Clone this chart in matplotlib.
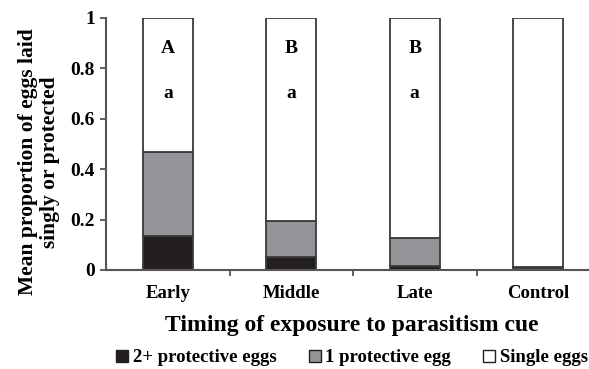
import matplotlib.pyplot as plt
from matplotlib.patches import Patch

categories = ["Early", "Middle", "Late", "Control"]
two_plus = [0.135, 0.052, 0.016, 0.005]
one_prot = [0.333, 0.143, 0.111, 0.008]
single = [1 - a - b for a, b in zip(two_plus, one_prot)]
upper_letters = ["A", "B", "B", ""]
lower_letters = ["a", "a", "a", ""]

plt.rcParams['font.family'] = ['Liberation Serif', 'DejaVu Serif']
plt.rcParams['font.weight'] = 'bold'

fig = plt.figure(figsize=(5.89, 3.69), dpi=100)
ax = fig.add_axes([106 / 589, 99 / 369, 494 / 589, 252 / 369])

x = range(len(categories))
edge = '#3a3a3a'
w = 0.405
ax.bar(x, two_plus, width=w, color='#231f20', edgecolor=edge, linewidth=1.3)
ax.bar(x, one_prot, width=w, bottom=two_plus, color='#939598', edgecolor=edge, linewidth=1.3)
bottoms = [a + b for a, b in zip(two_plus, one_prot)]
ax.bar(x, single, width=w, bottom=bottoms, color='white', edgecolor=edge, linewidth=1.3)

for i in x:
    ax.text(i, 0.88, upper_letters[i], ha='center', va='center', fontsize=14, fontweight='bold')
    ax.text(i, 0.70, lower_letters[i], ha='center', va='center', fontsize=14, fontweight='bold')

ax.set_xlim(-0.5, 3.5)
ax.set_ylim(0, 1)
ax.set_yticks([0, 0.2, 0.4, 0.6, 0.8, 1])
ax.set_yticklabels(["0", "0.2", "0.4", "0.6", "0.8", "1"], fontsize=14, fontweight='bold')
ax.set_xticks(list(x))
ax.set_xticklabels(categories, fontsize=13.5, fontweight='bold')
ax.set_xticks([0.5, 1.5, 2.5], minor=True)
ax.tick_params(axis='x', which='major', length=0, pad=11)
ax.tick_params(axis='x', which='minor', length=4, color='#555555', width=1.3)
ax.tick_params(axis='y', length=4, color='#555555', width=1.3, pad=4)
for s in ['top', 'right']:
    ax.spines[s].set_visible(False)
for s in ['left', 'bottom']:
    ax.spines[s].set_color('#555555')
    ax.spines[s].set_linewidth(1.5)

fig.text(39 / 589, 1 - 162 / 369, "Mean proportion of eggs laid\nsingly or protected",
         rotation=90, ha='center', va='center', fontsize=15.5, fontweight='bold', linespacing=1.1)
fig.text(352 / 589, 1 - 326 / 369, "Timing of exposure to parasitism cue",
         ha='center', va='center', fontsize=17, fontweight='bold')

handles = [Patch(facecolor='#231f20', edgecolor='#231f20'),
           Patch(facecolor='#939598', edgecolor='#231f20'),
           Patch(facecolor='white', edgecolor='#231f20')]
fig.legend(handles, ["2+ protective eggs", "1 protective egg", "Single eggs"],
           loc='center', bbox_to_anchor=(352 / 589, 1 - 358 / 369), ncol=3, frameon=False,
           prop={'size': 13.5, 'weight': 'bold'}, handlelength=0.65, handleheight=0.65,
           handletextpad=0.25, columnspacing=1.7, borderpad=0)

fig.savefig("out.png", dpi=100)
